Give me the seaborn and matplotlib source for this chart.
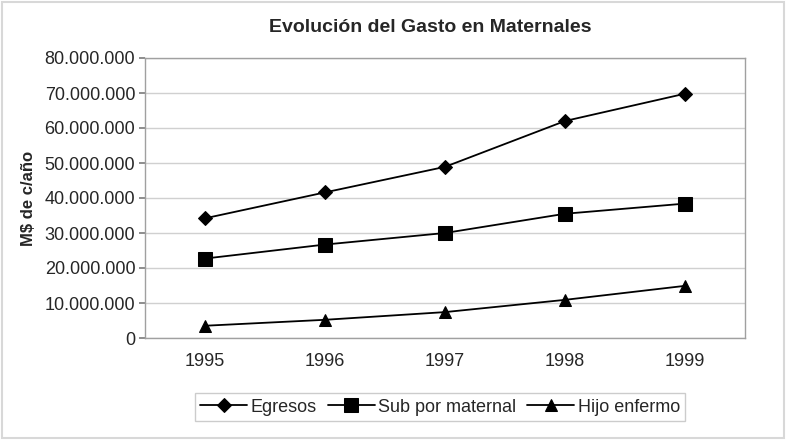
import pandas as pd
import matplotlib.pyplot as plt
import seaborn as sns
from matplotlib.ticker import FuncFormatter, FixedLocator

years = ["1995", "1996", "1997", "1998", "1999"]
egresos = [34_200_000, 41_600_000, 48_900_000, 62_000_000, 69_800_000]
sub_maternal = [22_700_000, 26_700_000, 30_000_000, 35_500_000, 38_400_000]
hijo_enfermo = [3_500_000, 5_200_000, 7_400_000, 10_900_000, 14_900_000]

series_names = ["Egresos", "Sub por maternal", "Hijo enfermo"]

df = pd.DataFrame({
    "pos": list(range(len(years))) * 3,
    "valor": egresos + sub_maternal + hijo_enfermo,
    "serie": [s for s in series_names for _ in years],
})

sns.set_theme(style="white")
plt.rcParams['font.family'] = ['Liberation Sans', 'DejaVu Sans']

fig = plt.figure(figsize=(7.86, 4.4), dpi=100)
ax = fig.add_axes([145 / 786, 1 - 338 / 440, 600 / 786, 280 / 440])

sns.lineplot(data=df, x="pos", y="valor", hue="serie", style="serie",
             palette=["black"] * 3, markers={"Egresos": "D", "Sub por maternal": "s", "Hijo enfermo": "^"},
             dashes=False, markersize=8, linewidth=1.3, ax=ax,
             markeredgecolor="black")
# diamond smaller, square bigger
for line in ax.get_lines():
    if line.get_marker() == "D":
        line.set_markersize(7)
    if line.get_marker() == "s":
        line.set_markersize(10)

ax.set_xlim(-0.5, 4.5)
ax.set_ylim(0, 80_000_000)
ax.yaxis.set_major_locator(FixedLocator([i * 10_000_000 for i in range(9)]))
ax.yaxis.set_major_formatter(FuncFormatter(lambda v, p: f"{int(v):,}".replace(",", ".")))
ax.set_xticks(range(len(years)))
ax.set_xticklabels(years)
ax.set_xticks([i - 0.5 for i in range(len(years) + 1)], minor=True)
ax.tick_params(axis="x", which="major", length=0, pad=11, labelsize=13)
ax.tick_params(axis="x", which="minor", length=5, color="#808080", direction="out")
ax.tick_params(axis="y", length=4, color="#808080", direction="out", labelsize=13, pad=3)
ax.tick_params(bottom=True, left=True)

ax.grid(axis="y", color="#d0d0d0", linewidth=1)
for sp in ax.spines.values():
    sp.set_color("#a0a0a0")
    sp.set_linewidth(1)

ax.set_xlabel("")
ax.set_ylabel("M$ de c/año", fontsize=12, fontweight="bold", labelpad=6)
fig.text(430 / 786, 1 - 28 / 440, "Evolución del Gasto en Maternales", ha="center", va="center",
         fontsize=14, fontweight="bold")

handles, labels = ax.get_legend_handles_labels()
ax.get_legend().remove()
leg = fig.legend(handles, labels, loc="center", bbox_to_anchor=(440 / 786, 1 - 407 / 440),
                 ncol=3, frameon=True, fontsize=13, handlelength=2.6, handletextpad=0.2,
                 columnspacing=0.6, borderpad=0.3, fancybox=False)
leg.get_frame().set_edgecolor("#c0c0c0")
leg.get_frame().set_linewidth(1)

fig.patches.append(plt.Rectangle((2 / 786, 2 / 440), 782 / 786, 436 / 440, transform=fig.transFigure,
                                 fill=False, edgecolor="#d8d8d8", linewidth=1.5))

fig.savefig("out.png", dpi=100)
